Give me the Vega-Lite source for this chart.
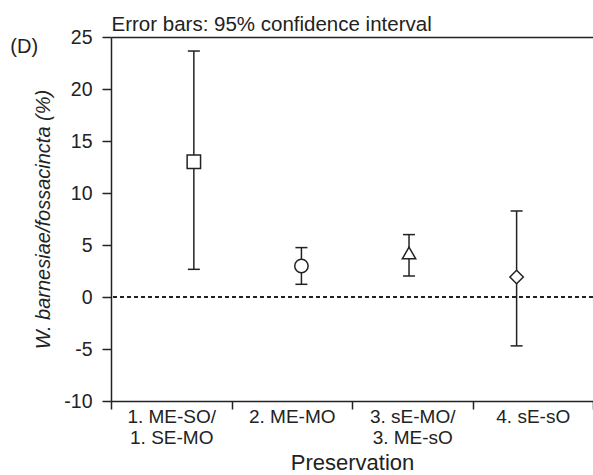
{
  "$schema": "https://vega.github.io/schema/vega-lite/v6.json",
  "width": 482,
  "height": 364,
  "autosize": {"type": "none"},
  "padding": {"left": 111, "top": 37, "right": 0, "bottom": 74},
  "background": "white",
  "config": {
    "font": "Liberation Sans",
    "view": {"stroke": null},
    "axis": {"grid": false, "domainColor": "#222", "tickColor": "#222", "labelColor": "#222", "titleColor": "#222", "domainWidth": 1.5, "tickWidth": 1.5, "titleFontWeight": "normal"}
  },
  "title": {"text": "(D)", "orient": "left", "anchor": "end", "frame": "group", "angle": 0, "align": "right", "baseline": "top", "fontSize": 20, "fontWeight": "normal", "color": "#222", "offset": -32, "font": "Liberation Sans"},
  "datasets": {
    "groups": [
      {"preservation": "1. ME-SO/|1. SE-MO"},
      {"preservation": "2. ME-MO"},
      {"preservation": "3. sE-MO/|3. ME-sO"},
      {"preservation": "4. sE-sO"}
    ],
    "stats": [
      {"group": 1, "shape": "square", "mean": 13.0, "lo": 2.66, "hi": 23.65},
      {"group": 2, "shape": "circle", "mean": 2.98, "lo": 1.22, "hi": 4.75},
      {"group": 3, "shape": "triangle-up", "mean": 4.23, "lo": 2.02, "hi": 6.0},
      {"group": 4, "shape": "diamond", "mean": 1.92, "lo": -4.7, "hi": 8.27}
    ]
  },
  "layer": [
    {
      "data": {"name": "groups"},
      "mark": {"type": "point", "opacity": 0},
      "encoding": {
        "x": {
          "field": "preservation", "type": "nominal", "sort": null,
          "scale": {"paddingInner": 0, "paddingOuter": 0},
          "axis": {"orient": "bottom", "title": "Preservation", "labelAngle": 0, "labelExpr": "split(datum.label, '|')", "labelFontSize": 19, "labelLineHeight": 21, "labelPadding": -2, "labelDx": 5, "tickBand": "extent", "tickSize": 8, "titleFontSize": 22, "titlePadding": 5}
        }
      }
    },
    {
      "data": {"name": "stats"},
      "encoding": {
        "x": {"field": "group", "type": "quantitative", "scale": {"domain": [0.23, 4.71], "nice": false, "zero": false},
          "axis": {"orient": "top", "labels": false, "ticks": false, "title": "Error bars: 95% confidence interval", "titleAnchor": "start", "titleAlign": "left", "titleFontSize": 20.5, "titlePadding": 3}}
      },
      "layer": [
        {
          "mark": {"type": "rule", "strokeDash": [4, 3], "strokeWidth": 1.3, "color": "#222"},
          "encoding": {"x": null, "y": {"datum": 0}}
        },
        {
          "mark": {"type": "rule", "strokeWidth": 1.5, "color": "#222"},
          "encoding": {
            "y": {"field": "lo", "type": "quantitative", "scale": {"domain": [-10, 25], "nice": false},
              "axis": {"title": "W. barnesiae/fossacincta (%)", "titleFontStyle": "italic", "titleFontSize": 20, "titlePadding": 10, "values": [-10, -5, 0, 5, 10, 15, 20, 25], "labelExpr": "'' + datum.value", "tickSize": 9, "labelFontSize": 19.5, "labelPadding": 10}},
            "y2": {"field": "hi"}
          }
        },
        {
          "mark": {"type": "tick", "orient": "horizontal", "size": 12, "thickness": 1.5, "color": "#222", "opacity": 1},
          "encoding": {"y": {"field": "lo", "type": "quantitative"}}
        },
        {
          "mark": {"type": "tick", "orient": "horizontal", "size": 12, "thickness": 1.5, "color": "#222", "opacity": 1},
          "encoding": {"y": {"field": "hi", "type": "quantitative"}}
        },
        {
          "mark": {"type": "point", "filled": false, "fill": "white", "fillOpacity": 1, "stroke": "#222", "strokeWidth": 1.5, "opacity": 1, "size": 180},
          "encoding": {
            "y": {"field": "mean", "type": "quantitative"},
            "shape": {"field": "shape", "type": "nominal", "scale": {"domain": ["square", "circle", "triangle-up", "diamond"], "range": ["square", "circle", "triangle-up", "diamond"]}, "legend": null}
          }
        }
      ]
    }
  ],
  "resolve": {"scale": {"x": "independent"}}
}
